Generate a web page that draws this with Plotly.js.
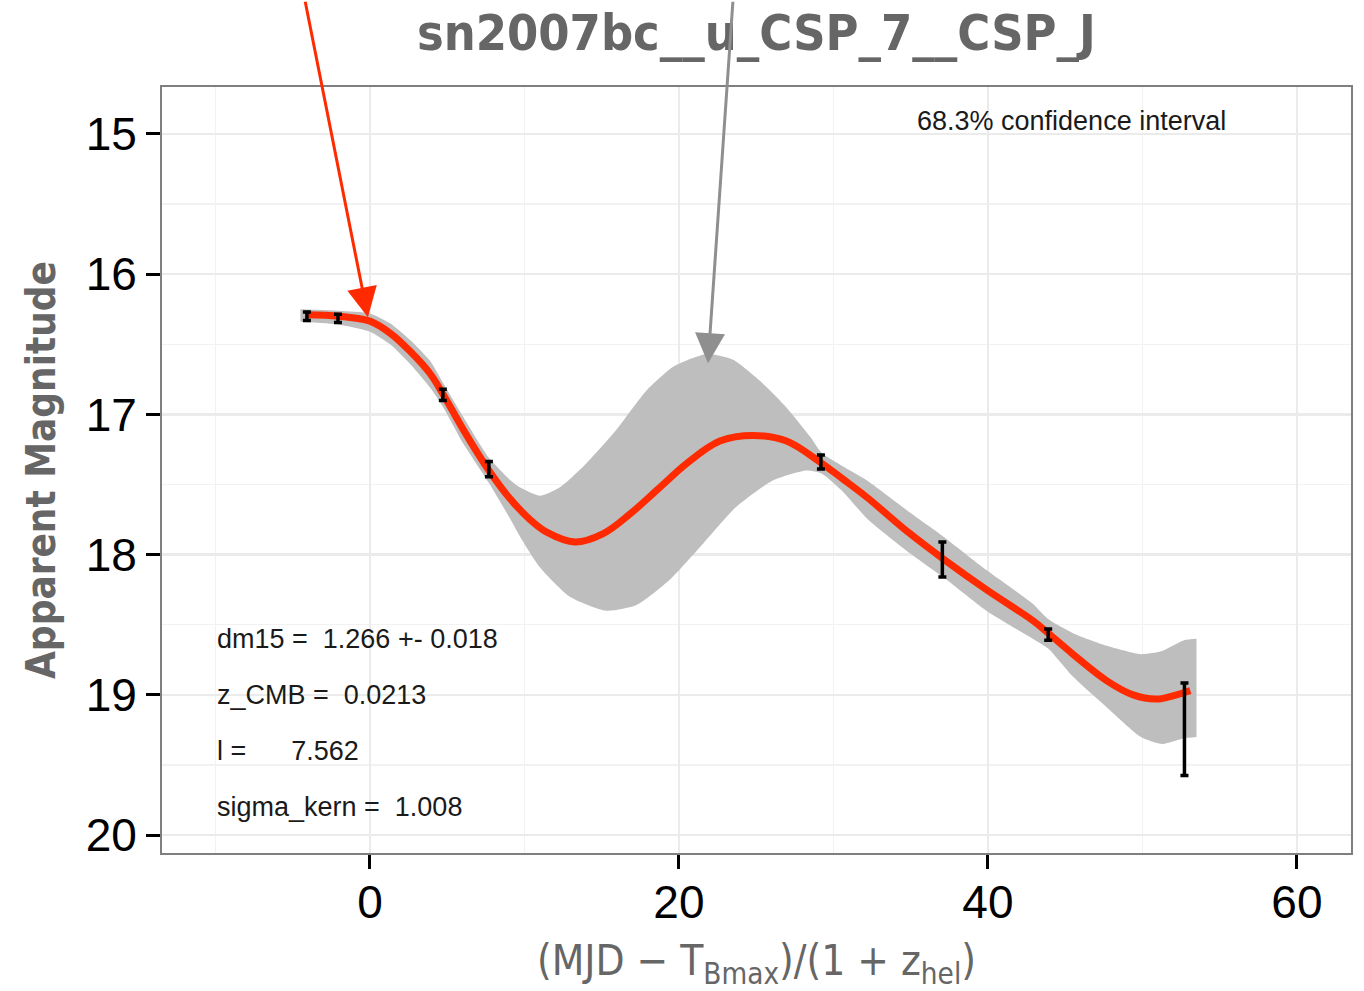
<!DOCTYPE html>
<html>
<head>
<meta charset="utf-8">
<script src="https://cdn.plot.ly/plotly-3.0.1.min.js"></script>
<style>html,body{margin:0;padding:0;background:#fff;}#chart{width:1364px;height:991px;}</style>
</head>
<body>
<div id="chart"></div>
<script>
// Observed photometry (phase, magnitude, 1-sigma error)
const obsPhase = [-4.08, -2.07, 4.72, 7.70, 29.19, 37.05, 43.90, 52.72];
const obsMag   = [16.30, 16.315, 16.86, 17.39, 17.34, 18.035, 18.57, 19.245];
const obsErr   = [0.03, 0.03, 0.04, 0.055, 0.05, 0.125, 0.04, 0.33];

// Gaussian-process mean curve
const fitPhase = [-4.1, -2, 0, 1.3, 2.6, 3.9, 4.75, 6.05, 7.7, 9.06, 10.36, 11.44, 13.27, 15.1, 16.83, 18.77, 20.5, 22.65, 24.8, 26.96, 29.13, 30.6, 32.15, 34.95, 37.1, 39.9, 42.9, 43.9, 45.5, 47.7, 49.4, 50.9, 52.2, 53.1];
const fitMag   = [16.29, 16.30, 16.335, 16.42, 16.55, 16.71, 16.86, 17.11, 17.40, 17.60, 17.75, 17.84, 17.91, 17.85, 17.71, 17.52, 17.35, 17.19, 17.15, 17.19, 17.34, 17.46, 17.59, 17.85, 18.03, 18.25, 18.47, 18.56, 18.71, 18.90, 19.00, 19.03, 19.00, 18.97];

// 68.3% confidence band edges
const bandUpperPhase = [-4.5, -2, 0, 1.3, 2.6, 3.9, 4.75, 6.05, 7.7, 9.0, 9.71, 11.0, 12.3, 14.0, 15.95, 17.9, 19.63, 21.8, 23.5, 25.24, 26.96, 28.5, 29.2, 30.6, 32.15, 34.95, 37.1, 39.9, 42.9, 43.9, 45.5, 47.7, 49.9, 51.2, 52.7, 53.5];
const bandUpperMag   = [16.25, 16.26, 16.28, 16.35, 16.47, 16.62, 16.78, 17.02, 17.31, 17.46, 17.52, 17.58, 17.52, 17.35, 17.11, 16.83, 16.66, 16.57, 16.61, 16.76, 16.95, 17.16, 17.27, 17.37, 17.47, 17.70, 17.87, 18.11, 18.35, 18.46, 18.56, 18.65, 18.71, 18.69, 18.61, 18.60];
const bandLowerPhase = [-4.5, -2, 0, 1.3, 2.6, 3.9, 4.75, 6.05, 7.7, 9.0, 9.71, 11.0, 12.94, 15.3, 17.26, 19.4, 21.57, 23.7, 26.1, 28.26, 29.2, 30.6, 32.15, 34.95, 37.1, 39.9, 42.9, 43.9, 45.5, 47.7, 49.9, 51.3, 52.7, 53.5];
const bandLowerMag   = [16.34, 16.36, 16.41, 16.50, 16.64, 16.81, 16.95, 17.21, 17.49, 17.73, 17.87, 18.09, 18.30, 18.40, 18.36, 18.18, 17.92, 17.66, 17.47, 17.40, 17.42, 17.55, 17.74, 17.99, 18.16, 18.40, 18.60, 18.67, 18.87, 19.09, 19.30, 19.35, 19.31, 19.30];

// Axis ticks
const xTicks = [0, 20, 40, 60];
const yTicks = [15, 16, 17, 18, 19, 20];

// Text
const titleText = 'sn2007bc__u_CSP_7__CSP_J';
const infoLines = ['dm15 =  1.266 +- 0.018', 'z_CMB =  0.0213', 'l =      7.562', 'sigma_kern =  1.008'];
const infoY = [18.6, 19.0, 19.4, 19.8];
const ciLabel = '68.3% confidence interval';

const nb = s => s.replace(/ /g, '\u00A0');

const traces = [
  {x: bandUpperPhase, y: bandUpperMag, type: 'scatter', mode: 'lines',
   line: {width: 0, color: '#bebebe', shape: 'spline', smoothing: 0.6}, hoverinfo: 'skip', showlegend: false},
  {x: bandLowerPhase, y: bandLowerMag, type: 'scatter', mode: 'lines', fill: 'tonexty', fillcolor: '#bebebe',
   line: {width: 0, color: '#bebebe', shape: 'spline', smoothing: 0.6}, hoverinfo: 'skip', showlegend: false},
  {x: fitPhase, y: fitMag, type: 'scatter', mode: 'lines',
   line: {color: '#ff2a00', width: 7, shape: 'spline', smoothing: 1}, showlegend: false},
  {x: obsPhase, y: obsMag, type: 'scatter', mode: 'markers',
   marker: {size: 1, color: '#000'},
   error_y: {type: 'data', array: obsErr, visible: true, color: '#000', thickness: 3.5, width: 4},
   showlegend: false}
];

const sans = 'Liberation Sans, Arial, sans-serif';
const cond = 'DejaVu Sans Condensed, DejaVu Sans, sans-serif';

const annotations = infoLines.map((t, i) => ({
  x: -10, y: infoY[i], xref: 'x', yref: 'y', text: nb(t), showarrow: false,
  xanchor: 'left', yanchor: 'middle', font: {family: sans, size: 27, color: '#1a1a1a'}
}));
annotations.push({x: 45.4, y: 14.91, xref: 'x', yref: 'y', text: ciLabel, showarrow: false,
  xanchor: 'center', yanchor: 'middle', font: {family: sans, size: 27, color: '#1a1a1a'}});
annotations.push({x: -0.13, y: 16.307, xref: 'x', yref: 'y', text: '', showarrow: true,
  ax: -63, ay: -317, arrowcolor: '#ff2a00', arrowwidth: 3, arrowhead: 2, arrowsize: 2});
annotations.push({x: 21.88, y: 16.635, xref: 'x', yref: 'y', text: '', showarrow: true,
  ax: 25, ay: -363, arrowcolor: '#8f8f8f', arrowwidth: 3, arrowhead: 2, arrowsize: 2});

const layout = {
  width: 1364, height: 991,
  margin: {l: 162, r: 13, t: 87, b: 138, pad: 0},
  paper_bgcolor: '#fff', plot_bgcolor: '#fff',
  showlegend: false,
  title: {text: titleText, x: 0.5545, xanchor: 'center', y: 0.967, yanchor: 'middle',
          font: {family: cond, size: 50, color: '#666666', weight: 'bold'}},
  xaxis: {
    range: [-13.46, 63.5], tickvals: xTicks, ticktext: xTicks.map(String),
    showgrid: true, gridcolor: '#ebebeb', gridwidth: 2.5, zeroline: false,
    minor: {dtick: 10, tick0: 0, showgrid: true, gridcolor: '#f2f2f2', gridwidth: 1.5, ticks: ''},
    ticks: 'outside', ticklen: 14, tickwidth: 3, tickcolor: '#000',
    ticklabelstandoff: -6,
    tickfont: {family: sans, size: 46, color: '#000'},
    showline: true, mirror: true, linecolor: '#7f7f7f', linewidth: 2,
    title: {text: '(MJD \u2212 T<sub>Bmax</sub>)/(1 + z<sub>hel</sub>)', standoff: 22,
            font: {family: cond, size: 42, color: '#666666'}}
  },
  yaxis: {
    range: [20.128, 14.665], tickvals: yTicks, ticktext: yTicks.map(String),
    showgrid: true, gridcolor: '#ebebeb', gridwidth: 2.5, zeroline: false,
    minor: {dtick: 0.5, tick0: 15, showgrid: true, gridcolor: '#f2f2f2', gridwidth: 1.5, ticks: ''},
    ticks: 'outside', ticklen: 14, tickwidth: 3, tickcolor: '#000',
    tickfont: {family: sans, size: 46, color: '#000'},
    showline: true, mirror: true, linecolor: '#7f7f7f', linewidth: 2,
    title: {text: 'Apparent Magnitude', standoff: 18,
            font: {family: cond, size: 40, color: '#666666', weight: 'bold'}}
  },
  annotations: annotations
};

Plotly.newPlot('chart', traces, layout, {staticPlot: true, displayModeBar: false});
</script>
</body>
</html>
